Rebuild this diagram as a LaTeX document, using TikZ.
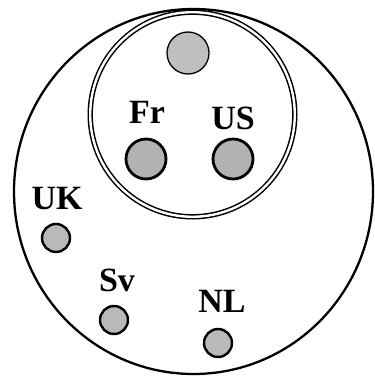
\documentclass[tikz,border=0pt]{standalone}
\usepackage{fontspec}
\setmainfont{Liberation Serif}
\usepackage{tikz}

\tikzset{
    bigdot/.style={circle, draw=black, line width=2.8pt, fill=gray!60, minimum size=40pt, inner sep=0pt},
    topdot/.style={circle, draw=black, line width=1.3pt, fill=gray!50, minimum size=42pt, inner sep=0pt},
    smalldot/.style={circle, draw=black, line width=2.4pt, fill=gray!55, minimum size=28pt, inner sep=0pt},
    lbl/.style={font=\fontsize{34}{34}\selectfont\bfseries, inner sep=0pt}
}

\begin{document}
\begin{tikzpicture}[x=1pt, y=-1pt]
    \useasboundingbox (0,0) rectangle (374,379);
    % outer and inner circles
    \draw[line width=2.3pt] (193.5,191.5) ellipse [x radius=179.5, y radius=182.5];
    \draw[line width=1.5pt, double=white, double distance=2.4pt] (192.5,114.5) circle (102.3);
    % dots
    \node[topdot] (top) at (188,53) {};
    \node[bigdot] (fr) at (146,159) {};
    \node[bigdot] (us) at (233,159) {};
    \node[smalldot] (uk) at (56,238) {};
    \node[smalldot] (sv) at (114,320) {};
    \node[smalldot] (nl) at (218,343) {};
    % labels
    \node[lbl] (frlabel) at (147,112) {Fr};
    \node[lbl] (uslabel) at (233,118) {US};
    \node[lbl] (uklabel) at (57,199) {UK};
    \node[lbl] (svlabel) at (117,280) {Sv};
    \node[lbl] (nllabel) at (222,301) {NL};
\end{tikzpicture}
\end{document}
